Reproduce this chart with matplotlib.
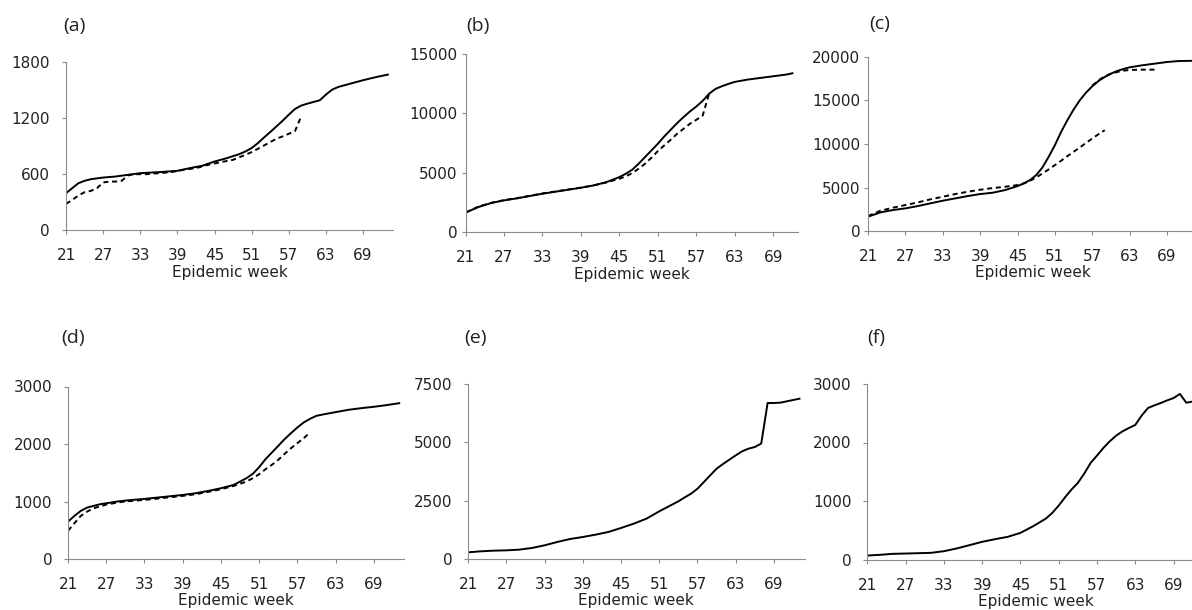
import matplotlib
matplotlib.use('Agg')  # no display in the sandbox
import matplotlib.pyplot as plt

W, H = 1192, 610

# ---- data (epidemic week -> cumulative count) ----
# (a)
weeks_a = [21, 22, 23, 24, 25, 27, 29, 31, 33, 36, 39, 41, 43, 45, 47, 49, 50, 51, 52, 53,
           54, 55, 56, 57, 58, 59, 60, 61, 62, 63, 64, 65, 67, 69, 71, 73]
cases_a = [394, 448, 501, 527, 544, 562, 573, 591, 609, 620, 634, 663, 688, 734, 770, 813, 842,
           878, 931, 992, 1050, 1110, 1171, 1236, 1297, 1333, 1354, 1372, 1390, 1451, 1504,
           1533, 1569, 1605, 1637, 1665]
weeks_a_fit = [21, 22, 23, 24, 25, 26, 27, 28, 29, 30, 31, 32, 34, 36, 38, 40, 42, 44, 46, 48,
               50, 51, 52, 53, 54, 55, 56, 57, 58, 59]
cases_a_fit = [279, 322, 369, 405, 419, 448, 509, 519, 519, 527, 584, 598, 598, 609, 620, 645,
               663, 699, 727, 752, 806, 835, 870, 906, 942, 978, 1003, 1031, 1060, 1218]

# (b)
weeks_b = [21, 23, 25, 27, 29, 31, 33, 35, 37, 39, 41, 43, 45, 46, 47, 48, 49, 50, 51, 52, 53,
           54, 55, 56, 57, 58, 59, 60, 61, 62, 63, 65, 67, 69, 71, 72]
cases_b = [1627, 2103, 2440, 2664, 2832, 3029, 3225, 3393, 3561, 3729, 3926, 4206, 4627, 4907,
           5244, 5749, 6310, 6870, 7431, 8048, 8609, 9170, 9675, 10151, 10572, 11050, 11650,
           12058, 12283, 12479, 12647, 12843, 12983, 13124, 13264, 13376]
weeks_b_fit = [21, 23, 25, 27, 29, 31, 33, 35, 37, 39, 41, 43, 45, 46, 47, 48, 49, 50, 51, 52,
               53, 54, 55, 56, 57, 58, 59]
cases_b_fit = [1650, 2130, 2460, 2690, 2850, 3050, 3250, 3410, 3580, 3740, 3930, 4180, 4487,
               4683, 4963, 5328, 5749, 6254, 6815, 7291, 7768, 8273, 8693, 9114, 9451, 9815,
               11650]

# (c)
weeks_c = [21, 23, 25, 27, 29, 31, 33, 35, 37, 39, 41, 43, 45, 46, 47, 48, 49, 50, 51, 52, 53,
           54, 55, 56, 57, 58, 59, 60, 61, 62, 63, 65, 67, 69, 71, 73]
cases_c = [1644, 2141, 2409, 2600, 2868, 3174, 3480, 3748, 4015, 4245, 4398, 4704, 5163, 5468,
           5851, 6424, 7304, 8528, 9866, 11396, 12734, 13958, 15029, 15908, 16635, 17247,
           17706, 18088, 18394, 18623, 18814, 19044, 19235, 19426, 19541, 19560]
weeks_c_fit = [21, 23, 25, 27, 29, 31, 33, 35, 37, 39, 41, 43, 45, 46, 47, 48, 49, 50, 51, 52,
               53, 54, 55, 56, 57, 58, 59]
cases_c_fit = [1720, 2332, 2677, 2983, 3289, 3633, 3939, 4245, 4512, 4742, 4933, 5086, 5277,
               5468, 5774, 6157, 6616, 7075, 7572, 8069, 8604, 9101, 9598, 10134, 10631, 11128,
               11587]
weeks_c_fit2 = [57, 58, 59, 60, 61, 62, 63, 65, 67]
cases_c_fit2 = [16712, 17323, 17782, 18088, 18279, 18432, 18509, 18547, 18547]

# (d)
weeks_d = [21, 22, 23, 24, 25, 26, 27, 29, 31, 33, 35, 37, 39, 41, 43, 45, 47, 48, 49, 50, 51,
           52, 53, 54, 55, 56, 57, 58, 59, 60, 61, 63, 65, 67, 69, 71, 73]
cases_d = [650, 749, 836, 894, 923, 952, 969, 1004, 1027, 1045, 1068, 1091, 1114, 1143, 1184,
           1230, 1288, 1346, 1405, 1480, 1596, 1735, 1851, 1967, 2084, 2188, 2287, 2374, 2438,
           2490, 2513, 2554, 2594, 2623, 2647, 2676, 2710]
weeks_d_fit = [21, 22, 23, 24, 25, 27, 29, 31, 33, 35, 37, 39, 41, 43, 45, 47, 49, 50, 51, 52,
               53, 54, 55, 56, 57, 58, 59]
cases_d_fit = [490, 621, 749, 824, 882, 946, 987, 1010, 1027, 1050, 1074, 1097, 1126, 1167,
               1213, 1271, 1346, 1405, 1474, 1561, 1637, 1724, 1828, 1927, 2014, 2101, 2200]

# (e)
weeks_e = [21, 23, 25, 27, 29, 31, 33, 35, 37, 39, 41, 43, 45, 47, 49, 51, 52, 53, 54, 55, 56,
           57, 58, 59, 60, 61, 62, 63, 64, 65, 66, 67, 68, 69, 70, 71, 72, 73]
cases_e = [286, 329, 357, 371, 400, 471, 586, 729, 857, 943, 1043, 1157, 1329, 1514, 1729,
           2043, 2186, 2329, 2471, 2643, 2800, 3014, 3300, 3586, 3871, 4071, 4257, 4443, 4614,
           4729, 4800, 4950, 6686, 6686, 6700, 6757, 6814, 6871]

# (f)
weeks_f = [21, 23, 25, 27, 29, 31, 33, 35, 37, 39, 41, 43, 45, 47, 49, 50, 51, 52, 53, 54, 55,
           56, 57, 58, 59, 60, 61, 62, 63, 64, 65, 66, 67, 68, 69, 70, 71, 72]
cases_f = [68, 80, 97, 102, 108, 114, 142, 188, 245, 302, 347, 387, 455, 569, 700, 797, 922,
           1064, 1195, 1309, 1468, 1650, 1776, 1907, 2020, 2117, 2191, 2248, 2300, 2460, 2590,
           2635, 2675, 2720, 2760, 2830, 2680, 2700]

week_ticks = [21, 27, 33, 39, 45, 51, 57, 63, 69]
panel_labels = ['(a)', '(b)', '(c)', '(d)', '(e)', '(f)']
y_ticks = [
    [0, 600, 1200, 1800],
    [0, 5000, 10000, 15000],
    [0, 5000, 10000, 15000, 20000],
    [0, 1000, 2000, 3000],
    [0, 2500, 5000, 7500],
    [0, 1000, 2000, 3000],
]
solid_series = [(weeks_a, cases_a), (weeks_b, cases_b), (weeks_c, cases_c),
                (weeks_d, cases_d), (weeks_e, cases_e), (weeks_f, cases_f)]
dashed_series = [
    [(weeks_a_fit, cases_a_fit)],
    [(weeks_b_fit, cases_b_fit)],
    [(weeks_c_fit, cases_c_fit), (weeks_c_fit2, cases_c_fit2)],
    [(weeks_d_fit, cases_d_fit)],
    [],
    [],
]

# ---- layout in pixels: x of week 21, y of zero, y of top tick, px per week, x end,
#      y tick pad (pt), panel label position ----
layout = [
    (66, 230, 62, 6.19, 73.8, 8.5, (63, 26)),
    (465.5, 232, 54, 6.41, 72.8, 2.5, (466, 26)),
    (868, 231, 57, 6.23, 73.8, 2.5, (869, 24)),
    (68, 559, 386.5, 6.37, 73.8, 8.3, (61, 338)),
    (468, 559, 384, 6.375, 73.8, 8.3, (464, 338)),
    (867.3, 559.5, 384, 6.38, 73.8, 8.3, (867, 338)),
]

AXIS_GRAY = '#8c8c8c'
TEXT = '#222222'

fig = plt.figure(figsize=(W / 100, H / 100), dpi=100)
fig.patch.set_facecolor('white')

for i, (x21, y0, ytop, pw, xend, ypad, lab_xy) in enumerate(layout):
    height_px = y0 - ytop
    ax = fig.add_axes([x21 / W, (H - y0) / H, (xend - 21) * pw / W, height_px / H])

    # observed (solid) and model (dashed) curves
    wk, val = solid_series[i]
    ax.plot(wk, val, color='black', lw=1.4, solid_joinstyle='round')
    for wk, val in dashed_series[i]:
        ax.plot(wk, val, color='black', lw=1.4, linestyle=(0, (2.6, 1.9)))

    ax.set_xlim(21, xend)
    ax.set_ylim(0, y_ticks[i][-1])
    ax.set_xticks(week_ticks)
    ax.set_yticks(y_ticks[i])

    # Excel-like thin gray axes
    ax.spines['top'].set_visible(False)
    ax.spines['right'].set_visible(False)
    for side in ['left', 'bottom']:
        ax.spines[side].set_color(AXIS_GRAY)
        ax.spines[side].set_linewidth(0.8)
    ax.tick_params(axis='x', direction='out', length=3, width=0.8, color=AXIS_GRAY,
                   pad=10, labelsize=11, labelcolor=TEXT)
    ax.tick_params(axis='y', direction='out', length=3, width=0.8, color=AXIS_GRAY,
                   pad=ypad, labelsize=11, labelcolor=TEXT)

    ax.set_xlabel('Epidemic week', fontsize=11, color=TEXT)
    ax.xaxis.set_label_coords(0.5, -42 / height_px)
    ax.xaxis.label.set_va('center')

    fig.text(lab_xy[0] / W, 1 - lab_xy[1] / H, panel_labels[i], fontsize=14,
             family='Open Sans', color=TEXT, ha='left', va='center')

plt.savefig('out.png', dpi=100, facecolor='white')
plt.close()
